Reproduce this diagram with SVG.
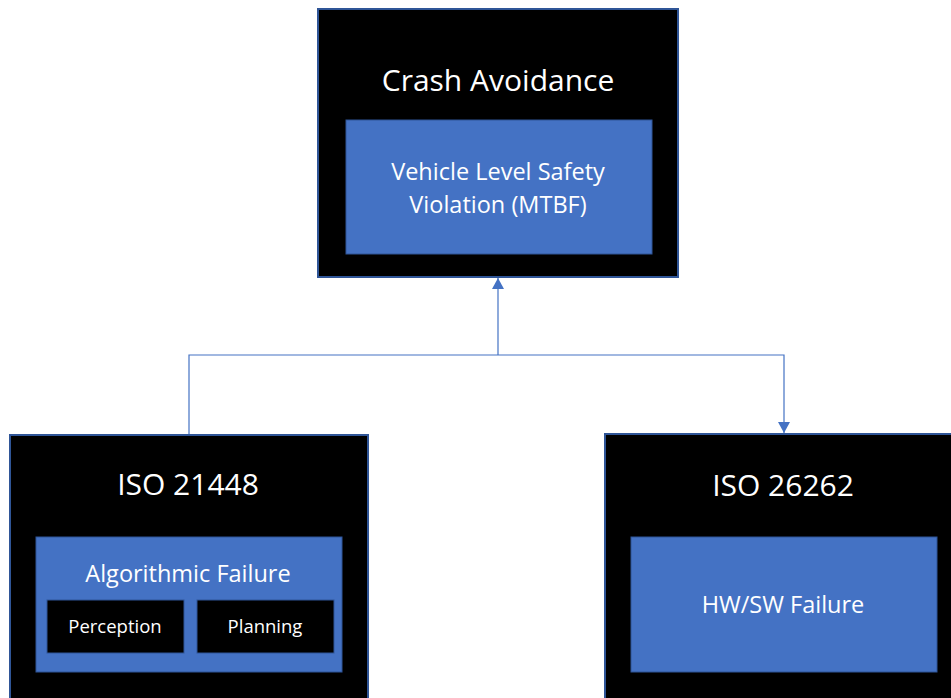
<svg xmlns="http://www.w3.org/2000/svg" width="951" height="698" viewBox="0 0 951 698">
<defs>
<style>
.outer{fill:#000;stroke:#2F5597;stroke-width:2}
.inner{fill:#4472C4;stroke:#2F5597;stroke-width:1}
.sub{fill:#000;stroke:#2F5597;stroke-width:1}
text{font-family:"Open Sans","Liberation Sans",sans-serif;fill:#fff;text-anchor:middle}
.t1{font-size:30px}
.t2{font-size:23.5px}
.t3{font-size:18.5px}
.conn{fill:none;stroke:#4472C4;stroke-width:1.2}
</style>
<marker id="arr" viewBox="0 0 11 12" refX="11" refY="6" markerWidth="11" markerHeight="12" markerUnits="userSpaceOnUse" orient="auto">
<path d="M0,0 L11,6 L0,12 z" fill="#4472C4"/>
</marker>
</defs>
<rect width="951" height="698" fill="#fff"/>
<g id="connectors">
<path class="conn" d="M189,434 V355 H784 V433" marker-end="url(#arr)"/>
<path class="conn" d="M498,355 V278" marker-end="url(#arr)"/>
</g>
<g id="crash-avoidance">
<rect class="outer" x="318" y="9" width="360" height="268"/>
<text class="t1" x="498" y="91">Crash Avoidance</text>
<rect class="inner" x="346" y="120" width="306" height="134"/>
<text class="t2" x="498" y="180">Vehicle Level Safety</text>
<text class="t2" x="498" y="213">Violation (MTBF)</text>
</g>
<g id="iso-21448">
<rect class="outer" x="10" y="435" width="358" height="275"/>
<text class="t1" x="188" y="495">ISO 21448</text>
<rect class="inner" x="36" y="537" width="306" height="135"/>
<text class="t2" x="188" y="582">Algorithmic Failure</text>
<g id="perception">
<rect class="sub" x="47" y="600" width="137" height="53"/>
<text class="t3" x="115" y="633">Perception</text>
</g>
<g id="planning">
<rect class="sub" x="197" y="600" width="137" height="53"/>
<text class="t3" x="265" y="633">Planning</text>
</g>
</g>
<g id="iso-26262">
<rect class="outer" x="605" y="434" width="360" height="275"/>
<text class="t1" x="783" y="496">ISO 26262</text>
<rect class="inner" x="631" y="537" width="306" height="135"/>
<text class="t2" x="783" y="613">HW/SW Failure</text>
</g>
</svg>
